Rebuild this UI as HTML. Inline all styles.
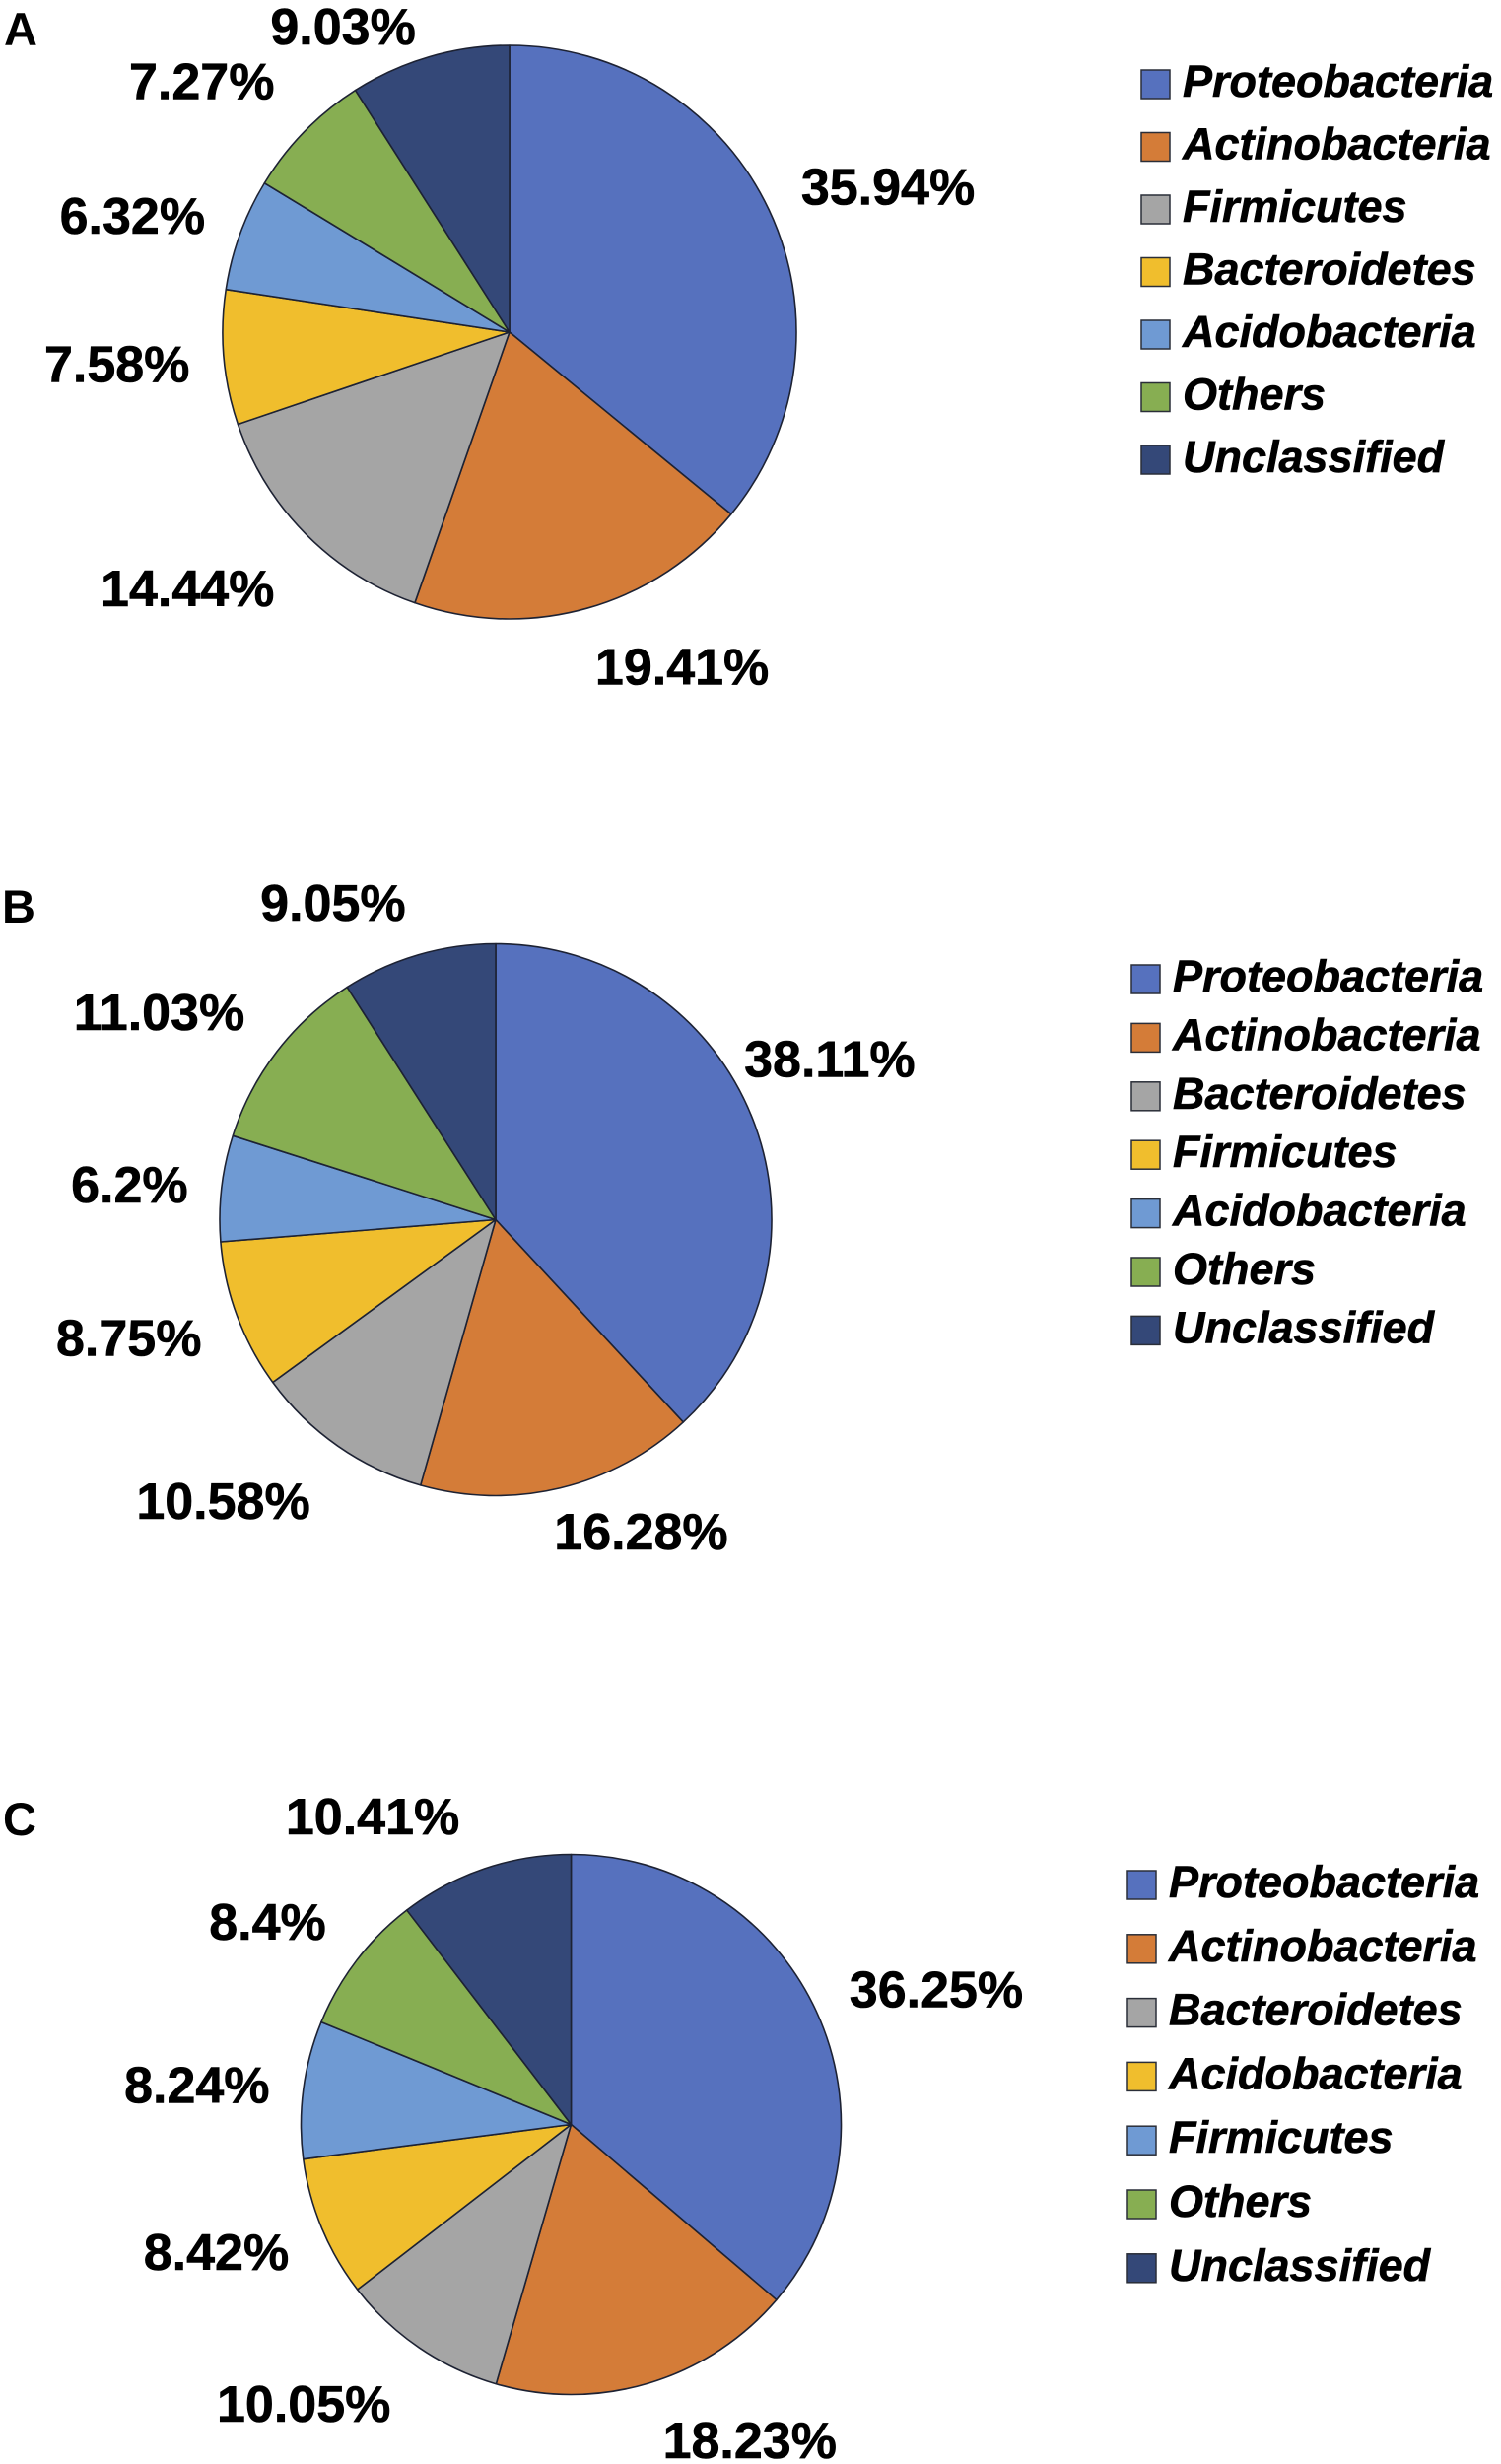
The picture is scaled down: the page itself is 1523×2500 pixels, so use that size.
<!DOCTYPE html>
<html>
<head>
<meta charset="utf-8">
<title>Phylum composition pie charts</title>
<style>
html,body{margin:0;padding:0;background:#fff;}
svg{display:block;}
text{font-family:"Liberation Sans",sans-serif;font-weight:bold;fill:#000;stroke:#000;stroke-width:0.6px;}
.value-label{font-size:52px;}
.legend-label{font-size:45px;font-style:italic;}
.panel-letter{font-size:47px;stroke-width:0;}
</style>
</head>
<body>
<svg id="figure" xmlns="http://www.w3.org/2000/svg" width="1523" height="2500" viewBox="0 0 1523 2500"></svg>
<script>
const categoriesA = ["Proteobacteria","Actinobacteria","Firmicutes","Bacteroidetes","Acidobacteria","Others","Unclassified"];
const valuesA = [35.94,19.41,14.44,7.58,6.32,7.27,9.03];
const categoriesB = ["Proteobacteria","Actinobacteria","Bacteroidetes","Firmicutes","Acidobacteria","Others","Unclassified"];
const valuesB = [38.11,16.28,10.58,8.75,6.2,11.03,9.05];
const categoriesC = ["Proteobacteria","Actinobacteria","Bacteroidetes","Acidobacteria","Firmicutes","Others","Unclassified"];
const valuesC = [36.25,18.23,10.05,8.42,8.24,8.4,10.41];

const sliceColors = ["#5671BE","#D47C38","#A5A5A5","#F0BE2D","#6F9AD3","#87AE52","#344878"];
const SVG_NS = "http://www.w3.org/2000/svg";
const figure = document.getElementById("figure");

function make(tag, attrs, parent) {
  const el = document.createElementNS(SVG_NS, tag);
  for (const k in attrs) el.setAttribute(k, attrs[k]);
  parent.appendChild(el);
  return el;
}

function angleScale(values) {
  const total = values.reduce(function (a, b) { return a + b; }, 0);
  return function (v) { return v / total * 2 * Math.PI; };
}

function polar(cx, cy, r, a) {
  return [cx + r * Math.sin(a), cy - r * Math.cos(a)];
}

function drawPanel(p) {
  const group = make("g", {}, figure);
  
  

  const letter = make("text", { x: p.letterX, y: p.letterY, "class": "panel-letter" }, group);
  
  
  letter.textContent = p.id.toUpperCase();

  const toAngle = angleScale(p.values);
  let start = 0;
  p.values.forEach(function (v, i) {
    const sweep = toAngle(v);
    const end = start + sweep;
    const a = polar(p.cx, p.cy, p.r, start);
    const b = polar(p.cx, p.cy, p.r, end);
    const large = sweep > Math.PI ? 1 : 0;
    const slice = make("path", {
      d: "M" + p.cx + " " + p.cy + " L" + a[0] + " " + a[1] + " A" + p.r + " " + p.r + " 0 " + large + " 1 " + b[0] + " " + b[1] + " Z",
      fill: sliceColors[i],
      stroke: "#1d2233",
      "stroke-width": 1.6,
      "stroke-linejoin": "round"
    }, group);
    
    
    start = end;
  });

  start = 0;
  p.values.forEach(function (v, i) {
    const sweep = toAngle(v);
    const mid = start + sweep / 2;
    const pos = polar(p.cx, p.cy, p.r * 1.3, mid);
    const nudge = p.labelNudge[i];
    const label = make("text", {
      x: pos[0] + nudge[0],
      y: pos[1] + nudge[1] + 18,
      "text-anchor": "middle",
      "class": "value-label"
    }, group);
    
    
    label.textContent = v + "%";
    start += sweep;
  });

  p.categories.forEach(function (name, i) {
    const y = p.legendY + i * p.legendStep;
    const entry = make("g", {}, group);
    
    
    const swatch = make("rect", {
      x: p.legendX, y: y, width: 29, height: 29,
      fill: sliceColors[i], stroke: "#2a2e38", "stroke-width": 1.5
    }, entry);
    
    
    const text = make("text", { x: p.legendX + 42, y: y + 27, "class": "legend-label" }, entry);
    
    
    text.textContent = name;
  });
}

drawPanel({
  id: "a", categories: categoriesA, values: valuesA,
  cx: 517, cy: 337, r: 291,
  letterX: 4, letterY: 46,
  legendX: 1158, legendY: 71, legendStep: 63.5,
  labelNudge: [[42,14],[73,-25],[-58,-6],[-21.5,-1],[-27,11],[-42,10],[-63,53]]
});
drawPanel({
  id: "b", categories: categoriesB, values: valuesB,
  cx: 503, cy: 1237.5, r: 280,
  letterX: 2, letterY: 936,
  legendX: 1148, legendY: 979, legendStep: 59.4,
  labelNudge: [[0,-30],[62.5,-37.5],[-68.5,-13],[-31,-6.5],[-10,6],[-53,11.5],[-63,28]]
});
drawPanel({
  id: "c", categories: categoriesC, values: valuesC,
  cx: 579.5, cy: 2155.5, r: 274,
  letterX: 3, letterY: 1862,
  legendX: 1144, legendY: 1898, legendStep: 64.8,
  labelNudge: [[47,12],[79,-20.5],[-71,-11],[-31,-7],[-26.5,6],[-25,11],[-87,25]]
});
</script>
</body>
</html>
